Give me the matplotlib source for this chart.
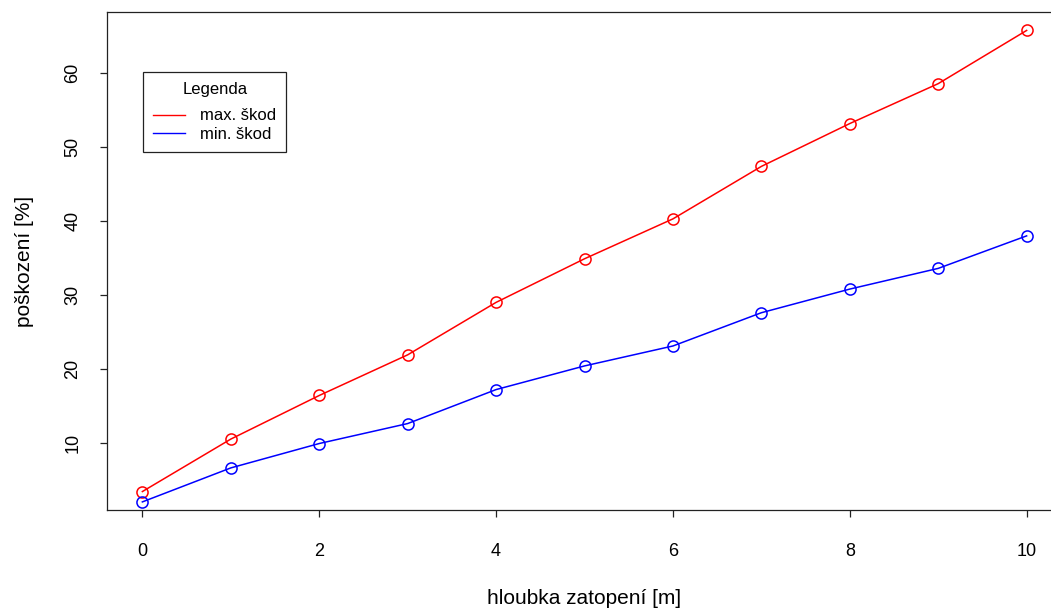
import matplotlib
matplotlib.use("Agg")
import matplotlib.pyplot as plt

plt.rcParams['font.family'] = ['Liberation Sans', 'DejaVu Sans']

hloubka = [0, 1, 2, 3, 4, 5, 6, 7, 8, 9, 10]
max_skod = [3.4, 10.5, 16.4, 21.9, 29.0, 34.9, 40.3, 47.4, 53.2, 58.6, 65.8]
min_skod = [2.0, 6.6, 9.9, 12.6, 17.2, 20.4, 23.1, 27.6, 30.8, 33.6, 38.0]
x_ticks = [0, 2, 4, 6, 8, 10]
y_ticks = [10, 20, 30, 40, 50, 60]

fig = plt.figure(figsize=(10.51, 6.10), dpi=100)
# R-style plot region; right edge runs past the image like in the original
ax = fig.add_axes([107 / 1051, 100 / 610, 955 / 1051, 498 / 610])

# lines (legend) and open circles drawn separately, like R's type="o"
ax.plot(hloubka, max_skod, color='#ff0000', lw=1.1, label='max. škod')
ax.plot(hloubka, min_skod, color='#0000ff', lw=1.1, label='min. škod')
ax.plot(hloubka, max_skod, ls='none', marker='o', ms=8, mfc='none',
        mec='#ff0000', mew=1.1)
ax.plot(hloubka, min_skod, ls='none', marker='o', ms=8, mfc='none',
        mec='#0000ff', mew=1.1)

# R pads the range by 4 % on each side (y from the first series)
rx = max(hloubka) - min(hloubka)
ax.set_xlim(min(hloubka) - 0.04 * rx, max(hloubka) + 0.04 * rx)
ry = max(max_skod) - min(max_skod)
ax.set_ylim(min(max_skod) - 0.04 * ry, max(max_skod) + 0.04 * ry)

ax.set_xticks(x_ticks)
ax.set_yticks(y_ticks)
ax.tick_params(axis='both', direction='out', length=5, width=0.9,
               labelsize=13, color='#222222')
ax.tick_params(axis='x', pad=18.5)
ax.tick_params(axis='y', pad=13.5)
for lab in ax.get_yticklabels():
    lab.set_rotation(90)
    lab.set_va('center')
for sp in ax.spines.values():
    sp.set_linewidth(0.9)
    sp.set_color('#222222')

ax.set_xlabel('hloubka zatopení [m]', fontsize=15, labelpad=21)
ax.set_ylabel('poškození [%]', fontsize=15, labelpad=22)

leg = ax.legend(title='Legenda', loc='upper left',
                bbox_to_anchor=(36 / 955, 438 / 498), fontsize=12,
                title_fontsize=12, fancybox=False, framealpha=1,
                edgecolor='#222222', handlelength=1.9, handletextpad=0.9,
                borderpad=0.62, labelspacing=0.22, borderaxespad=0)
leg.get_frame().set_linewidth(0.9)
leg._legend_box.sep = 8
for line in leg.get_lines():
    line.set_linewidth(1.0)

fig.savefig('out.png', dpi=100)
